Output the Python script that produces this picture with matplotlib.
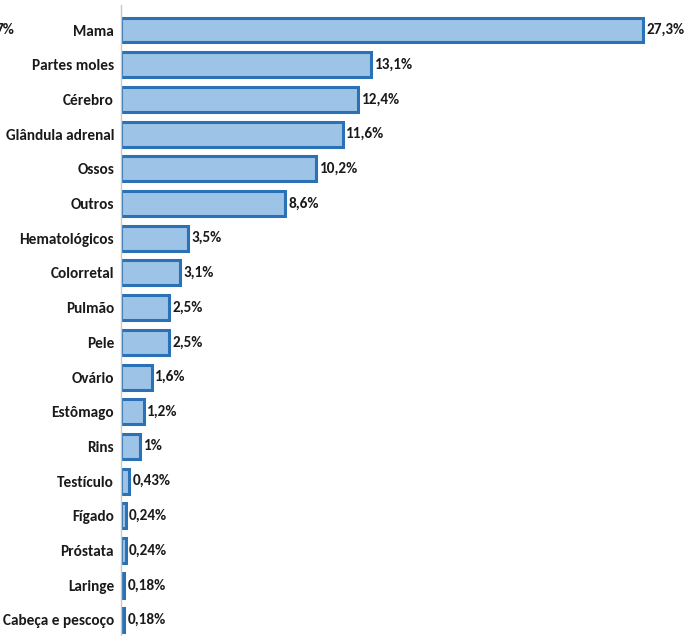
import matplotlib.pyplot as plt
import numpy as np

plt.rcParams['font.family'] = ['Carlito', 'DejaVu Sans']

categories = ["Mama", "Partes moles", "Cérebro", "Glândula adrenal", "Ossos", "Outros",
              "Hematológicos", "Colorretal", "Pulmão", "Pele", "Ovário", "Estômago",
              "Rins", "Testículo", "Fígado", "Próstata", "Laringe", "Cabeça e pescoço"]
values = [27.3, 13.1, 12.4, 11.6, 10.2, 8.6, 3.5, 3.1, 2.5, 2.5, 1.6, 1.2, 1.0,
          0.43, 0.24, 0.24, 0.18, 0.18]
value_labels = ["27,3%", "13,1%", "12,4%", "11,6%", "10,2%", "8,6%", "3,5%", "3,1%",
                "2,5%", "2,5%", "1,6%", "1,2%", "1%", "0,43%", "0,24%", "0,24%",
                "0,18%", "0,18%"]

W, H = 693, 636
fig = plt.figure(figsize=(W / 100, H / 100), dpi=100)
ax = fig.add_axes([121 / W, 0, 1 - 121 / W, 1])

y = np.arange(len(categories))
ax.barh(y, values, height=0.72, color="#9dc3e6", edgecolor="#2a72b5", linewidth=2.2)

ax.set_xlim(0, 572 / 19.12)
ax.set_ylim(17 + 16 / 34.7, -30 / 34.7)

for i, (v, lab) in enumerate(zip(values, value_labels)):
    ax.annotate(lab, (v, i), xytext=(2.5, 0), textcoords="offset points",
                va="center", ha="left", fontsize=11, fontweight="bold", color="#1a1a1a")

ax.set_yticks(y)
ax.set_yticklabels(categories, fontsize=11, fontweight="bold", color="#1a1a1a")
ax.tick_params(axis="y", length=0, pad=5)
ax.set_xticks([])

for s in ["top", "right", "bottom"]:
    ax.spines[s].set_visible(False)
ax.spines["left"].set_color("#c8c8c8")
ax.spines["left"].set_linewidth(1)
ax.spines["left"].set_bounds(17 + 16 / 34.7, -25 / 34.7)

# fragment of a neighbouring label, cut off at the left edge
fig.text(14 / W, 1 - 30 / H, "7%", ha="right", va="center", fontsize=11,
         fontweight="bold", color="#1a1a1a")

fig.savefig("out.png", dpi=100)
